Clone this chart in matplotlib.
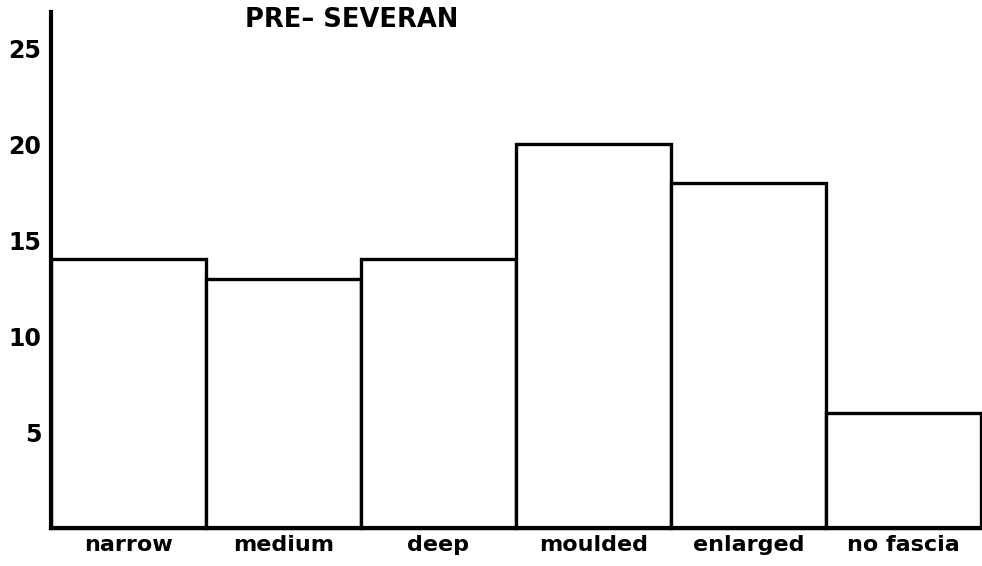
import matplotlib
matplotlib.use("Agg")
import matplotlib.pyplot as plt

categories = ["narrow", "medium", "deep", "moulded", "enlarged", "no fascia"]
counts = [14, 13, 14, 20, 18, 6]
yticks = [5, 10, 15, 20, 25]
title = "PRE\u2013 SEVERAN"

plt.rcParams["font.family"] = ["DejaVu Sans"]

fig = plt.figure(figsize=(9.82, 5.66), dpi=100)
ax = fig.add_axes([51 / 982, 1 - 528 / 566, 930 / 982, 516 / 566])

x = range(len(categories))
ax.bar(x, counts, width=1.0, color="white", edgecolor="black",
       linewidth=2.4, clip_on=False, zorder=2)

ax.set_xlim(-0.5, 5.5)
ax.set_ylim(0, 26.9)

ax.spines["top"].set_visible(False)
ax.spines["right"].set_visible(False)
ax.spines["left"].set_linewidth(3)
ax.spines["bottom"].set_linewidth(3)

ax.set_xticks(list(x))
ax.set_xticklabels(categories, fontsize=16, fontweight="bold")
ax.set_yticks(yticks)
ax.set_yticklabels([str(v) for v in yticks], fontsize=17, fontweight="bold")
ax.tick_params(axis="both", length=0)
ax.tick_params(axis="x", pad=5)
ax.tick_params(axis="y", pad=7)

fig.text(245 / 982, 1 - 20 / 566, title, fontsize=18.5, fontweight="bold",
         ha="left", va="center")

fig.savefig("out.png", dpi=100)
